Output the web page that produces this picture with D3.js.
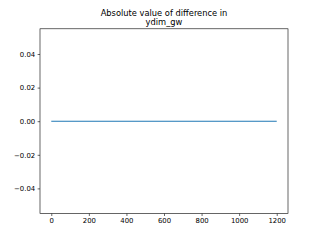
<!DOCTYPE html>
<head>
  <meta charset="utf-8">
  <script src="https://d3js.org/d3.v7.min.js"></script>
<style>
    body {
        margin: 0;
        background: #fff;
    }
    text {
        font-family: "DejaVu Sans", sans-serif;
    }
</style>
</head>

<body>
  <script>

// data
var titleLines = ["Absolute value of difference in", "ydim_gw"];
var xValues = [0, 200, 400, 600, 800, 1000, 1200];
var yValues = [0, 0, 0, 0, 0, 0, 0];
var xTicks = [0, 200, 400, 600, 800, 1000, 1200];
var yTicks = [-0.04, -0.02, 0, 0.02, 0.04];

var width = 320;
var height = 240;
var margin = {left: 40, right: 32, top: 28.8, bottom: 26.4};

var svg = d3.select("body")
    .append("svg")
    .attr("width", width)
    .attr("height", height);

var x = d3.scaleLinear()
    .domain([-60, 1260])
    .range([margin.left, width - margin.right]);

var y = d3.scaleLinear()
    .domain([-0.055, 0.055])
    .range([height - margin.bottom, margin.top]);

var fmt = d3.format(".2f");

var xAxis = svg.append("g")
    .attr("transform", "translate(0," + (height - margin.bottom) + ")")
    .call(d3.axisBottom(x).tickValues(xTicks).tickSize(2.4).tickPadding(2.4).tickFormat(d3.format("d")));

var yAxis = svg.append("g")
    .attr("transform", "translate(" + margin.left + ",0)")
    .call(d3.axisLeft(y).tickValues(yTicks).tickSize(2.4).tickPadding(2.4).tickFormat(fmt));

svg.selectAll(".domain").remove();
svg.selectAll(".tick line").attr("stroke", "#000").attr("stroke-width", 0.6);
svg.selectAll(".tick text")
    .attr("font-size", "6.9px")
    .attr("fill", "#000")
    .style("font-family", "DejaVu Sans");

// frame
svg.append("rect")
    .attr("x", margin.left)
    .attr("y", margin.top)
    .attr("width", width - margin.left - margin.right)
    .attr("height", height - margin.top - margin.bottom)
    .attr("fill", "none")
    .attr("stroke", "#000")
    .attr("stroke-width", 0.6);

var line = d3.line()
    .x(function (d, i) { return x(xValues[i]); })
    .y(function (d) { return y(d); });

svg.append("path")
    .datum(yValues)
    .attr("d", line)
    .attr("fill", "none")
    .attr("stroke", "#1f77b4")
    .attr("stroke-width", 1.04);

svg.append("text")
    .attr("x", (margin.left + width - margin.right) / 2)
    .attr("text-anchor", "middle")
    .attr("font-size", "8.3px")
    .attr("fill", "#000")
    .selectAll("tspan")
    .data(titleLines)
    .enter()
    .append("tspan")
    .attr("x", (margin.left + width - margin.right) / 2)
    .attr("y", function (d, i) { return 16 + i * 8.8; })
    .text(function (d) { return d; });

  </script>
</body>
